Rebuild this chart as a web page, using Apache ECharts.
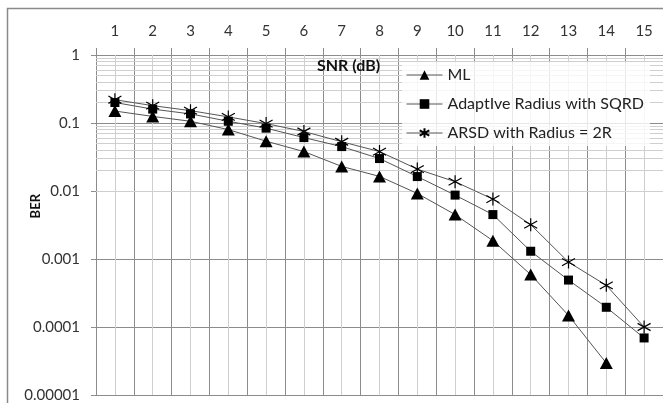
<!DOCTYPE html>
<html>
<head>
<meta charset="utf-8">
<script src="https://cdn.jsdelivr.net/npm/echarts@6/dist/echarts.min.js"></script>
<style>
html,body{margin:0;padding:0;background:#fff;}
#chart{width:663px;height:403px;}
</style>
</head>
<body>
<div id="chart"></div>
<script>
var categories = ['1','2','3','4','5','6','7','8','9','10','11','12','13','14','15'];
var mlValues = [0.15,0.125,0.106,0.080,0.054,0.038,0.023,0.0164,0.0092,0.0045,0.00186,0.00059,0.000148,0.0000295,null];
var sqrdValues = [0.20,0.16,0.136,0.106,0.084,0.061,0.045,0.030,0.0163,0.0087,0.0045,0.0013,0.00049,0.000195,0.000069];
var arsdValues = [0.22,0.18,0.152,0.123,0.098,0.075,0.053,0.038,0.021,0.0137,0.0076,0.0032,0.0009,0.00041,0.0001];
var seriesNames = ['ML','AdaptIve Radius with SQRD','ARSD with Radius = 2R'];
var yTickValues = [1,0.1,0.01,0.001,0.0001,0.00001];
var yTickLabels = ['1','0.1','0.01','0.001','0.0001','0.00001'];

// minor (2..9 per decade) horizontal grid positions
var minorY = [];
for (var k = -5; k < 0; k++) {
  for (var m = 2; m <= 9; m++) minorY.push(m * Math.pow(10, k));
}
var FONT = 'Lato';
var starPath = 'path://M5,0 L5,10 M0.5,2.2 L9.5,7.8 M0.5,7.8 L9.5,2.2';

var chart = echarts.init(document.getElementById('chart'), null, {renderer: 'canvas'});
var markLineData = minorY.map(function (v) { return {yAxis: v}; })
  .concat(categories.map(function (c, i) { return {xAxis: i}; }));

chart.setOption({
  animation: false,
  backgroundColor: '#fff',
  grid: {left: 96, top: 55, right: -5, bottom: 8, containLabel: false},
  xAxis: {
    type: 'category',
    data: categories,
    position: 'top',
    boundaryGap: true,
    axisLine: {show: false},
    axisTick: {show: true, length: 7, lineStyle: {color: '#8c8c8c'}},
    axisLabel: {margin: 16, fontFamily: FONT, fontSize: 15, color: '#333'},
    splitLine: {show: true, lineStyle: {color: '#8c8c8c', width: 1}}
  },
  yAxis: {
    type: 'log',
    logBase: 10,
    min: 0.00001,
    max: 1,
    axisLine: {show: true, lineStyle: {color: '#8c8c8c'}},
    axisTick: {show: true, length: 5, lineStyle: {color: '#8c8c8c'}},
    axisLabel: {
      margin: 16, fontFamily: FONT, fontSize: 15, color: '#333',
      formatter: function (v) {
        for (var i = 0; i < yTickValues.length; i++) {
          if (Math.abs(Math.log10(v) - Math.log10(yTickValues[i])) < 1e-6) return yTickLabels[i];
        }
        return '';
      }
    },
    splitLine: {show: true, lineStyle: {color: '#8c8c8c', width: 1}},
    minorTick: {show: false},
    minorSplitLine: {show: false}
  },
  legend: {
    data: seriesNames,
    orient: 'vertical',
    left: 402,
    top: 62,
    z: 10,
    padding: [4, 6, 4, 4],
    backgroundColor: 'rgba(255,255,255,0.8)',
    itemWidth: 36,
    itemHeight: 12,
    itemGap: 11,
    lineStyle: {width: 1, color: '#555'},
    textStyle: {fontFamily: FONT, fontSize: 16, color: '#222', lineHeight: 18}
  },
  graphic: [
    {type: 'rect', silent: true, z: 100,
     shape: {x: 7.5, y: 8.5, width: 700, height: 500},
     style: {fill: 'none', stroke: '#8a8a8a', lineWidth: 1.5}},
    {type: 'text', silent: true, z: 100, left: 317, top: 58,
     style: {text: 'SNR (dB)', font: 'bold 16px ' + FONT, fill: '#111'}},
    {type: 'text', silent: true, z: 100, left: 29, top: 194, rotation: Math.PI / 2,
     style: {text: 'BER', font: 'bold 13px ' + FONT, fill: '#111'}}
  ],
  series: [
    {
      name: '__grid', type: 'line', data: [], z: 1, silent: true,
      markLine: {
        z: 1, zlevel: 0,
        silent: true, symbol: 'none', animation: false,
        label: {show: false},
        lineStyle: {type: 'solid', color: '#cfcfcf', width: 1},
        data: markLineData
      }
    },
    {
      name: seriesNames[0], type: 'line', data: mlValues, z: 3,
      symbol: 'triangle', symbolSize: [13, 12],
      itemStyle: {color: '#000'},
      lineStyle: {color: '#555', width: 1}
    },
    {
      name: seriesNames[1], type: 'line', data: sqrdValues, z: 3,
      symbol: 'rect', symbolSize: 9,
      itemStyle: {color: '#000'},
      lineStyle: {color: '#555', width: 1}
    },
    {
      name: seriesNames[2], type: 'line', data: arsdValues, z: 3,
      symbol: starPath, symbolSize: 13,
      itemStyle: {color: '#000', borderColor: '#000', borderWidth: 1.2},
      lineStyle: {color: '#555', width: 1}
    }
  ]
});
</script>
</body>
</html>
